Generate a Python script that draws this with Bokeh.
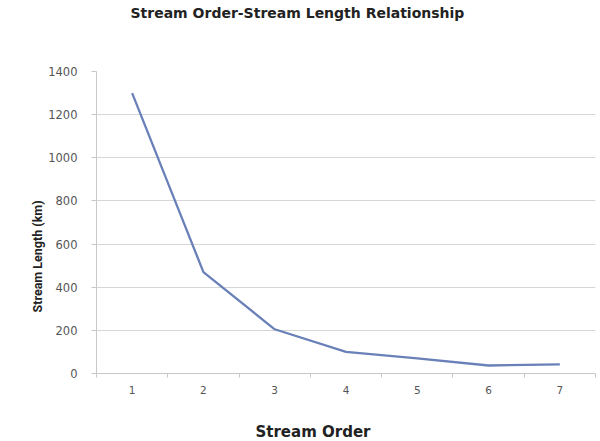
from bokeh.plotting import figure
from bokeh.models import Range1d, FixedTicker, ColumnDataSource, Title
from bokeh.embed import file_html
from bokeh.resources import INLINE

# Data
stream_order = [1, 2, 3, 4, 5, 6, 7]
stream_length_km = [1300, 470, 205, 100, 70, 37, 42]
y_ticks = [0, 200, 400, 600, 800, 1000, 1200, 1400]
title_text = "Stream Order-Stream Length Relationship"
x_label_text = "Stream Order"
y_label_text = "Stream Length (km)"

source = ColumnDataSource(data=dict(order=stream_order, length=stream_length_km))

p = figure(width=600, height=441, output_backend="svg", toolbar_location=None,
           x_range=Range1d(0.5, 7.5), y_range=Range1d(0, 1400),
           min_border_left=96, min_border_right=5, min_border_top=71, min_border_bottom=68)
p.title.visible = False

p.line("order", "length", source=source, line_color="#6A80B8", line_width=2.3)

p.outline_line_color = None

# grids
p.xgrid.grid_line_color = None
p.ygrid.grid_line_color = "#D6D6D6"
p.ygrid.grid_line_width = 1.2

# y axis
p.yaxis.ticker = FixedTicker(ticks=y_ticks)
p.yaxis.axis_line_color = "#C8C8C8"
p.yaxis.major_tick_line_color = "#C8C8C8"
p.yaxis.major_tick_out = 5
p.yaxis.major_tick_in = 0
p.yaxis.minor_tick_line_color = None
p.yaxis.major_label_standoff = 14
p.yaxis.major_label_text_font = "DejaVu Sans"
p.yaxis.major_label_text_font_size = "11.5px"
p.yaxis.major_label_text_color = "#555555"

# x axis
p.xaxis.ticker = FixedTicker(ticks=stream_order,
                             minor_ticks=[0.5, 1.5, 2.5, 3.5, 4.5, 5.5, 6.5, 7.5])
p.xaxis.axis_line_color = "#C8C8C8"
p.xaxis.major_tick_line_color = None
p.xaxis.major_tick_out = 0
p.xaxis.major_tick_in = 0
p.xaxis.minor_tick_line_color = "#C8C8C8"
p.xaxis.minor_tick_out = 4
p.xaxis.minor_tick_in = 0
p.xaxis.major_label_standoff = 8
p.xaxis.major_label_text_font = "DejaVu Sans"
p.xaxis.major_label_text_font_size = "10.5px"
p.xaxis.major_label_text_color = "#555555"

# spacer + chart title (above)
p.add_layout(Title(text=" ", text_font_size="1px", standoff=46), "above")
p.add_layout(Title(text=title_text, text_font="DejaVu Sans", text_font_style="bold",
                   text_font_size="14px", text_color="#222222",
                   align="left", offset=34, standoff=4), "above")

# spacer + x axis title (below)
p.add_layout(Title(text=" ", text_font_size="1px", standoff=20), "below")
p.add_layout(Title(text=x_label_text, text_font="DejaVu Sans", text_font_style="bold",
                   text_font_size="15px", text_color="#222222",
                   align="left", offset=159, standoff=2), "below")

# y axis title (left)
p.add_layout(Title(text=y_label_text, text_font="Liberation Sans Narrow, Roboto",
                   text_font_style="bold", text_font_size="12.5px", text_color="#222222",
                   align="left", offset=61, standoff=2), "left")

open("out.html", "w").write(file_html(p, INLINE))
